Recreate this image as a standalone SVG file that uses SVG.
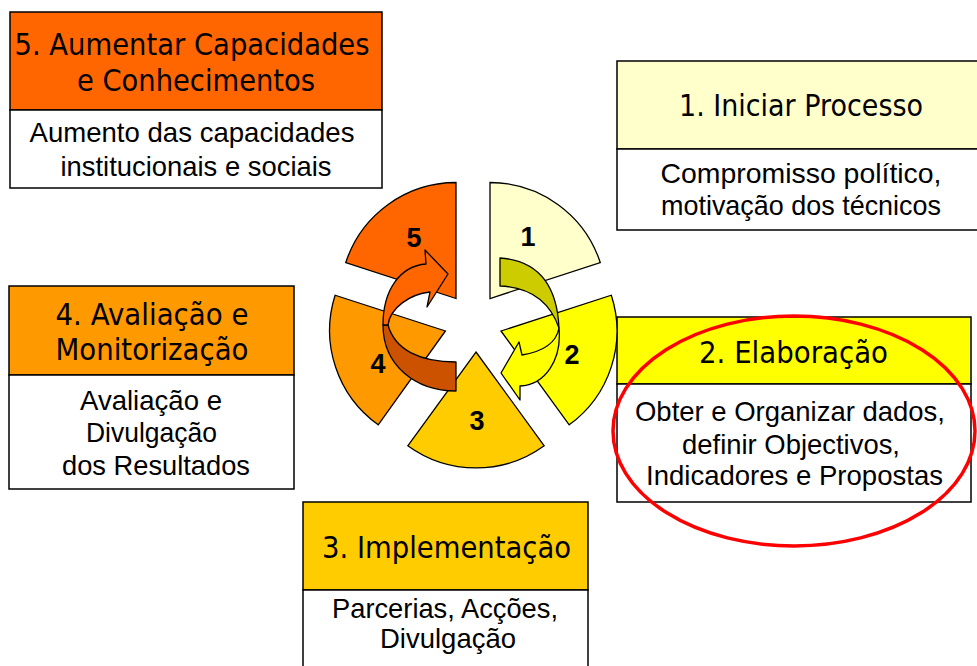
<svg xmlns="http://www.w3.org/2000/svg" width="977" height="666" viewBox="0 0 977 666">
<style>
.bx{stroke:#000;stroke-width:1.5}
.hd{font-family:"DejaVu Sans",Tahoma,sans-serif;font-size:29.5px;fill:#000;text-anchor:middle}
.bd{font-family:"Liberation Sans",Arial,sans-serif;font-size:28px;fill:#000;text-anchor:middle}
.sec{stroke:#000;stroke-width:1.3}
.num{font-family:"Liberation Sans",Arial,sans-serif;font-size:27px;font-weight:bold;fill:#000;text-anchor:middle}
.arr{stroke:#000;stroke-width:1.3;stroke-linejoin:round}
</style>
<rect width="977" height="666" fill="#fff"/>

<g id="box5">
<rect class="bx" x="10" y="12" width="372" height="98" fill="#FF6600"/>
<rect class="bx" x="10" y="110" width="372" height="78" fill="#fff"/>
<text class="hd" x="192" y="55" textLength="355" lengthAdjust="spacingAndGlyphs">5. Aumentar Capacidades</text>
<text class="hd" x="196" y="91" textLength="238" lengthAdjust="spacingAndGlyphs">e Conhecimentos</text>
<text class="bd" x="192" y="142" textLength="325" lengthAdjust="spacingAndGlyphs">Aumento das capacidades</text>
<text class="bd" x="196" y="176" textLength="271" lengthAdjust="spacingAndGlyphs">institucionais e sociais</text>
</g>

<g id="box1">
<rect class="bx" x="617" y="61" width="368" height="88" fill="#FFFFCC"/>
<rect class="bx" x="617" y="149" width="368" height="81" fill="#fff"/>
<text class="hd" x="801" y="116" textLength="244" lengthAdjust="spacingAndGlyphs">1. Iniciar Processo</text>
<text class="bd" x="801" y="183" textLength="281" lengthAdjust="spacingAndGlyphs">Compromisso político,</text>
<text class="bd" x="801" y="215" textLength="280" lengthAdjust="spacingAndGlyphs">motivação dos técnicos</text>
</g>

<g id="box4">
<rect class="bx" x="9" y="286" width="285" height="89" fill="#FF9900"/>
<rect class="bx" x="9" y="375" width="285" height="114" fill="#fff"/>
<text class="hd" x="152" y="325" textLength="193" lengthAdjust="spacingAndGlyphs">4. Avaliação e</text>
<text class="hd" x="152" y="360" textLength="193" lengthAdjust="spacingAndGlyphs">Monitorização</text>
<text class="bd" x="151" y="410" textLength="142" lengthAdjust="spacingAndGlyphs">Avaliação e</text>
<text class="bd" x="151.5" y="442" textLength="131" lengthAdjust="spacingAndGlyphs">Divulgação</text>
<text class="bd" x="156" y="475" textLength="188" lengthAdjust="spacingAndGlyphs">dos Resultados</text>
</g>

<g id="box2">
<rect class="bx" x="617" y="317" width="354" height="67" fill="#FFFF00"/>
<rect class="bx" x="617" y="384" width="354" height="118" fill="#fff"/>
<text class="hd" x="793.5" y="363" textLength="189" lengthAdjust="spacingAndGlyphs">2. Elaboração</text>
<text class="bd" x="790" y="421" textLength="310" lengthAdjust="spacingAndGlyphs">Obter e Organizar dados,</text>
<text class="bd" x="791" y="454" textLength="218" lengthAdjust="spacingAndGlyphs">definir Objectivos,</text>
<text class="bd" x="794.5" y="485" textLength="297" lengthAdjust="spacingAndGlyphs">Indicadores e Propostas</text>
</g>

<g id="box3">
<rect class="bx" x="303" y="502" width="285" height="88" fill="#FFCC00"/>
<rect class="bx" x="303" y="590" width="285" height="90" fill="#fff"/>
<text class="hd" x="446.5" y="558" textLength="249" lengthAdjust="spacingAndGlyphs">3. Implementação</text>
<text class="bd" x="445" y="618" textLength="226" lengthAdjust="spacingAndGlyphs">Parcerias, Acções,</text>
<text class="bd" x="448" y="648" textLength="136" lengthAdjust="spacingAndGlyphs">Divulgação</text>
</g>

<g id="sector1">
<path class="sec" fill="#FFFFCC" d="M490,298.5 L490,182.5 A116,116 0 0 1 600.3,262.7 Z"/>
<text class="num" x="528" y="246">1</text>
</g>
<g id="sector2">
<path class="sec" fill="#FFFF00" d="M501,331 L611.3,295.2 A116,116 0 0 1 569.2,424.8 Z"/>
<text class="num" x="572" y="364">2</text>
</g>
<g id="sector3">
<path class="sec" fill="#FFCC00" d="M476,352 L544.2,445.8 A116,116 0 0 1 407.8,445.8 Z"/>
<text class="num" x="477" y="430">3</text>
</g>
<g id="sector4">
<path class="sec" fill="#FF9900" d="M445.4,331 L378.2,424.8 A116,116 0 0 1 335.1,295.2 Z"/>
<text class="num" x="378" y="373">4</text>
</g>
<g id="sector5">
<path class="sec" fill="#FF6600" d="M456,298.5 L345.7,262.7 A116,116 0 0 1 456,182.5 Z"/>
<text class="num" x="414" y="247">5</text>
</g>

<g id="connectors">
<path class="arr" fill="#CCCC00" d="M500,258 Q556,262 559,328 Q545,288 500,286 Z"/>
<path class="arr" fill="#FFFF00" d="M559,328 C562,360 545,385 520,386 L520,400 L501,373 L519,342 L522,355 C540,352 556,345 559,328 Z"/>
<path class="arr" fill="#CC5200" d="M383,325 C383,365 415,391 456,391 L456,362 C420,362 395,350 388,325 Z"/>
<path class="arr" fill="#FF6600" d="M383,325 C383,290 400,266 426,264 L425,250 L448,274 L427,307 L430,292 C410,294 390,308 388,325 Z"/>
</g>

<g id="highlight">
<ellipse cx="794" cy="431" rx="181" ry="115" fill="none" stroke="#FF0000" stroke-width="3.5"/>
</g>
</svg>
